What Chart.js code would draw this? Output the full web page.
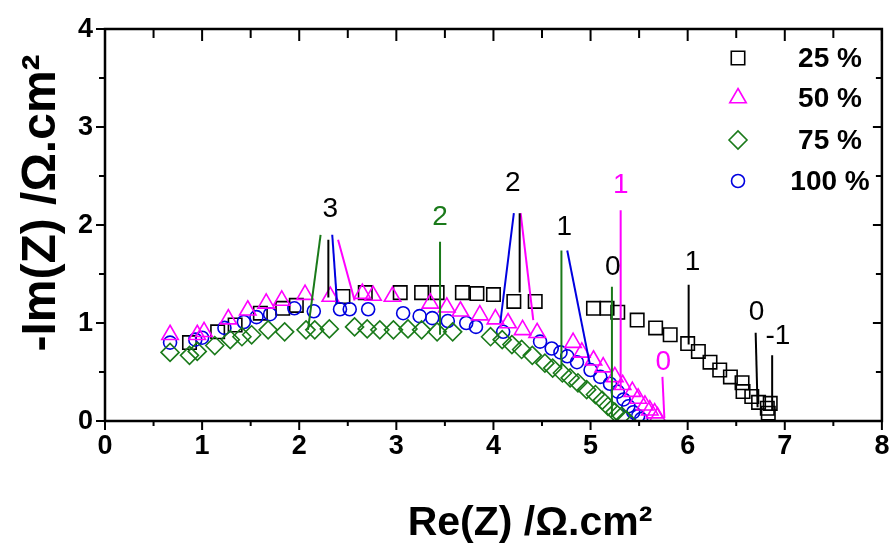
<!DOCTYPE html>
<html lang="en">
<head>
<meta charset="UTF-8" />
<title>Impedance - Nyquist</title>
<style>
  html, body { margin: 0; padding: 0; background: #fff; }
  #wrap { width: 893px; height: 543px; }
</style>
</head>
<body>
<div id="wrap"><canvas id="myChart" width="893" height="543"></canvas></div>
<script src="https://cdn.jsdelivr.net/npm/chart.js@4.4.0/dist/chart.umd.min.js"></script>
<script>
// Re(Z) / -Im(Z) values (ohm.cm2)
var re25 = [0.87, 1.16, 1.34, 1.60, 1.83, 1.97, 2.45, 2.68, 3.04, 3.26, 3.42, 3.68, 3.83, 4.00, 4.21, 4.43,
            5.03, 5.17, 5.28, 5.48, 5.67, 5.82, 6.00, 6.11, 6.23, 6.33, 6.44, 6.56, 6.57, 6.66, 6.73, 6.85, 6.82, 6.83];
var im25 = [0.80, 0.91, 0.98, 1.10, 1.15, 1.18, 1.27, 1.31, 1.31, 1.31, 1.31, 1.31, 1.30, 1.29, 1.22, 1.22,
            1.15, 1.15, 1.11, 1.03, 0.95, 0.88, 0.79, 0.71, 0.60, 0.52, 0.45, 0.39, 0.30, 0.25, 0.19, 0.18, 0.13, 0.08];

var re50 = [0.67, 0.95, 1.02, 1.27, 1.47, 1.66, 1.82, 2.06, 2.32, 2.65, 2.76, 2.96, 3.35, 3.52, 3.66, 3.86,
            4.02, 4.15, 4.30, 4.45, 4.82, 4.91, 5.03, 5.13, 5.25, 5.33, 5.43, 5.49, 5.56, 5.61, 5.66, 5.69];
var im50 = [0.88, 0.88, 0.91, 1.04, 1.13, 1.20, 1.23, 1.29, 1.27, 1.30, 1.28, 1.27, 1.20, 1.16, 1.12, 1.08,
            1.04, 1.00, 0.93, 0.90, 0.80, 0.70, 0.62, 0.55, 0.45, 0.37, 0.30, 0.23, 0.16, 0.11, 0.08, 0.04];

var re75 = [0.67, 0.87, 0.95, 1.13, 1.29, 1.41, 1.51, 1.68, 1.85, 2.07, 2.16, 2.31, 2.57, 2.70, 2.83, 2.97,
            3.12, 3.26, 3.42, 3.58, 3.97, 4.09, 4.19, 4.29, 4.40, 4.53, 4.61, 4.71, 4.79, 4.87, 4.96, 5.05,
            5.12, 5.18, 5.25, 5.32, 5.37];
var im75 = [0.70, 0.67, 0.71, 0.77, 0.83, 0.86, 0.88, 0.93, 0.91, 0.93, 0.93, 0.94, 0.96, 0.94, 0.93, 0.93,
            0.94, 0.93, 0.91, 0.91, 0.86, 0.83, 0.78, 0.73, 0.67, 0.59, 0.54, 0.49, 0.44, 0.39, 0.32, 0.27,
            0.21, 0.15, 0.09, 0.05, 0.01];

var re100 = [0.67, 0.93, 1.00, 1.23, 1.43, 1.56, 1.70, 1.95, 2.15, 2.42, 2.52, 2.71, 3.07, 3.24, 3.37, 3.53,
             3.72, 3.82, 4.10, 4.48, 4.60, 4.69, 4.76, 4.86, 5.00, 5.10, 5.20, 5.28, 5.34, 5.39, 5.44, 5.49, 5.52];
var im100 = [0.80, 0.83, 0.85, 0.95, 1.01, 1.06, 1.09, 1.15, 1.12, 1.14, 1.14, 1.14, 1.10, 1.07, 1.05, 1.02,
             1.00, 0.96, 0.91, 0.81, 0.74, 0.70, 0.66, 0.60, 0.52, 0.45, 0.38, 0.30, 0.22, 0.15, 0.09, 0.05, 0.02];

var seriesNames = ["25 %", "50 %", "75 %", "100 %"];

// frequency decade markers: [x1, y1, x2, y2] with the series they belong to
var markSeries = ["25", "75", "100", "50", "75", "100", "25", "50", "75", "100", "75", "50", "50", "25", "25", "25"];
var markLines = [
  [2.30, 1.85, 2.30, 1.26],
  [2.22, 1.90, 2.09, 0.93],
  [2.34, 1.90, 2.39, 1.20],
  [2.40, 1.85, 2.57, 1.23],
  [3.45, 1.83, 3.45, 0.88],
  [4.21, 2.12, 4.07, 1.00],
  [4.27, 2.12, 4.27, 1.31],
  [4.28, 2.12, 4.41, 1.03],
  [4.70, 1.74, 4.70, 0.55],
  [4.76, 1.74, 4.99, 0.59],
  [5.22, 1.37, 5.22, 0.04],
  [5.31, 2.15, 5.31, 0.33],
  [5.74, 0.45, 5.76, 0.03],
  [6.01, 1.39, 6.01, 0.78],
  [6.70, 0.90, 6.72, 0.14],
  [6.87, 0.67, 6.87, 0.11]
];
var markText = ["3", "2", "2", "1", "0", "1", "0", "1", "0", "-1"];
var markTextSeries = ["25", "75", "25", "25", "25", "50", "50", "25", "25", "25"];
var markTextX = [2.32, 3.45, 4.20, 4.73, 5.23, 5.31, 5.75, 6.05, 6.71, 6.93];
var markTextY = [2.16, 2.08, 2.43, 1.98, 1.57, 2.41, 0.60, 1.62, 1.11, 0.86];

var xTicks = [0, 1, 2, 3, 4, 5, 6, 7, 8];
var yTicks = [0, 1, 2, 3, 4];

var colors = { "25": "#000000", "50": "#ff00ff", "75": "#1a7a1a", "100": "#0000e0" };
var styles = {
  "25": { pointStyle: "rect", radius: 9.5 },
  "50": { pointStyle: "triangle", radius: 9.5 },
  "75": { pointStyle: "rectRot", radius: 9 },
  "100": { pointStyle: "circle", radius: 6.5 }
};

function toPoints(xs, ys) {
  return xs.map(function (x, i) { return { x: x, y: ys[i] }; });
}

function seriesDataset(key, xs, ys, order) {
  return {
    label: key,
    data: toPoints(xs, ys),
    showLine: false,
    borderColor: colors[key],
    backgroundColor: "rgba(0,0,0,0)",
    pointStyle: styles[key].pointStyle,
    pointRadius: styles[key].radius,
    pointBorderWidth: 1.6,
    pointBorderColor: colors[key],
    pointBackgroundColor: "rgba(0,0,0,0)",
    order: order
  };
}

var datasets = [
  seriesDataset("75", re75, im75, 1),
  seriesDataset("50", re50, im50, 2),
  seriesDataset("100", re100, im100, 3),
  seriesDataset("25", re25, im25, 4)
];

markLines.forEach(function (m, i) {
  datasets.push({
    label: "mark" + i,
    data: [{ x: m[0], y: m[1] }, { x: m[2], y: m[3] }],
    showLine: true,
    borderColor: colors[markSeries[i]],
    borderWidth: 2,
    pointRadius: 0,
    order: 0
  });
});

var sans = "'Liberation Sans', Arial, sans-serif";

// frame, ticks, titles, legend and decade labels
var decorate = {
  id: "decorate",
  afterDatasetsDraw: function (chart) {
    var ctx = chart.ctx;
    var a = chart.chartArea;
    var xs = chart.scales.x, ys = chart.scales.y;
    ctx.save();

    // decade labels
    ctx.textAlign = "center";
    ctx.textBaseline = "middle";
    ctx.font = "28px " + sans;
    markText.forEach(function (t, i) {
      ctx.fillStyle = colors[markTextSeries[i]];
      ctx.fillText(t, xs.getPixelForValue(markTextX[i]), ys.getPixelForValue(markTextY[i]));
    });

    // frame
    ctx.strokeStyle = "#000";
    ctx.lineWidth = 2.5;
    ctx.strokeRect(a.left, a.top, a.right - a.left, a.bottom - a.top);

    // ticks
    ctx.lineWidth = 2;
    ctx.beginPath();
    for (var v = 0; v <= 8; v += 0.5) {
      var px = xs.getPixelForValue(v);
      var major = v % 1 === 0;
      ctx.moveTo(px, a.bottom); ctx.lineTo(px, a.bottom + (major ? 9 : 5));
      ctx.moveTo(px, a.top); ctx.lineTo(px, a.top + (major ? 12 : 9));
    }
    for (var w = 0; w <= 4; w += 0.5) {
      var py = ys.getPixelForValue(w);
      var maj = w % 1 === 0;
      ctx.moveTo(a.left, py); ctx.lineTo(a.left - (maj ? 9 : 6), py);
      ctx.moveTo(a.right, py); ctx.lineTo(a.right - (maj ? 9 : 6), py);
    }
    ctx.stroke();

    // tick labels
    ctx.fillStyle = "#000";
    ctx.font = "bold 27px " + sans;
    ctx.textAlign = "center";
    ctx.textBaseline = "top";
    xTicks.forEach(function (t) {
      ctx.fillText(String(t), xs.getPixelForValue(t), a.bottom + 12);
    });
    ctx.textAlign = "right";
    ctx.textBaseline = "middle";
    yTicks.forEach(function (t) {
      ctx.fillText(String(t), a.left - 12, ys.getPixelForValue(t) + 1);
    });

    // axis titles
    ctx.font = "bold 41px " + sans;
    ctx.textAlign = "center";
    ctx.textBaseline = "alphabetic";
    ctx.fillText("Re(Z) /\u03A9.cm\u00B2", 530, 535);
    ctx.save();
    ctx.translate(55, 203);
    ctx.rotate(-Math.PI / 2);
    ctx.font = "bold 48px " + sans;
    ctx.fillText("-Im(Z) /\u03A9.cm\u00B2", 0, 0);
    ctx.restore();

    // legend
    var keys = ["25", "50", "75", "100"];
    var rows = [58, 98, 140, 181];
    ctx.font = "bold 28px " + sans;
    ctx.textAlign = "center";
    ctx.textBaseline = "middle";
    keys.forEach(function (k, i) {
      ctx.strokeStyle = colors[k];
      ctx.fillStyle = "rgba(0,0,0,0)";
      ctx.lineWidth = 1.6;
      Chart.helpers.drawPoint(ctx, {
        pointStyle: styles[k].pointStyle,
        radius: styles[k].radius,
        borderWidth: 1.6,
        rotation: 0
      }, 738, rows[i]);
      ctx.fillStyle = "#000";
      ctx.fillText(seriesNames[i], 830, rows[i] + 1);
    });

    ctx.restore();
  }
};

new Chart(document.getElementById("myChart"), {
  type: "scatter",
  data: { datasets: datasets },
  options: {
    responsive: false,
    animation: false,
    devicePixelRatio: 1,
    layout: { padding: { left: 105, top: 29, right: 11, bottom: 122 } },
    plugins: { legend: { display: false }, tooltip: { enabled: false } },
    scales: {
      x: { type: "linear", min: 0, max: 8, display: false },
      y: { type: "linear", min: 0, max: 4, display: false }
    }
  },
  plugins: [decorate]
});
</script>
</body>
</html>
